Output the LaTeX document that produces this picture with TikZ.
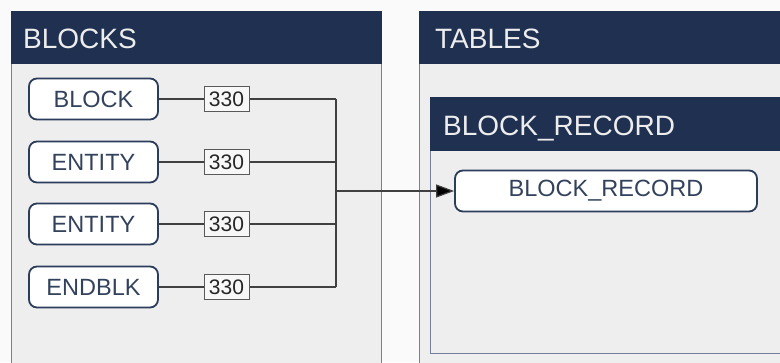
\documentclass[tikz,border=0pt]{standalone}
\usepackage{fontspec}
\setmainfont{Liberation Sans}
\usetikzlibrary{arrows.meta}
\definecolor{navy}{HTML}{203050}
\definecolor{panel}{HTML}{EEEEEE}
\definecolor{panelline}{HTML}{76809A}
\definecolor{nodeline}{HTML}{2C3D5C}
\definecolor{nodetext}{HTML}{33425C}
\tikzset{
  headfont/.style={font=\fontsize{28}{30}\selectfont},
  container/.style={fill=panel, draw=panelline, line width=1pt},
  header/.style={fill=navy, draw=navy},
  headtext/.style={headfont, text=white!93!black, anchor=base west, inner sep=0pt},
  entitybox/.style={draw=nodeline, line width=1.8pt, fill=white, rounded corners=8pt,
    font=\fontsize{23.5}{26}\selectfont, text=nodetext, minimum height=41pt,
    inner sep=0pt},
  countbox/.style={draw=black!65, line width=1pt, fill=white!97!black,
    font=\fontsize{21}{23}\selectfont, text=black!85, minimum width=45pt,
    minimum height=25pt, inner sep=0pt},
  wire/.style={draw=black!75, line width=1.2pt},
  flow/.style={wire, -{Triangle[length=18pt,width=13pt,fill=black]}}
}
\begin{document}
\begin{tikzpicture}[x=1pt,y=-1pt]
\useasboundingbox (0,0) rectangle (780,362);
\fill[white!98!black] (0,0) rectangle (780,362);
\begin{scope}
\clip (0,0) rectangle (780,362);
% BLOCKS panel
\path[container] (11,11) rectangle (381,380);
\path[header] (11,11) rectangle (381,63);
\node[headtext] (blockshead) at (23,48) {BLOCKS};
% TABLES panel
\path[container] (419,11) rectangle (800,380);
\path[header] (419,11) rectangle (800,63);
\node[headtext] (tableshead) at (435,48) {TABLES};
% BLOCK_RECORD table panel
\path[container] (430,97) rectangle (800,353);
\path[header] (430,97) rectangle (800,150);
\node[headtext] (recordhead) at (443,135) {BLOCK\_RECORD};
\end{scope}

% entity nodes
\node[entitybox, minimum width=129pt] (block)  at (93.5,99)  {BLOCK};
\node[entitybox, minimum width=129pt] (ent1)   at (93.5,162) {ENTITY};
\node[entitybox, minimum width=129pt] (ent2)   at (93.5,224) {ENTITY};
\node[entitybox, minimum width=129pt] (endblk) at (93.5,287) {ENDBLK};
\node[entitybox, minimum width=302pt] (record) at (606,191)  {BLOCK\_RECORD};

% group codes
\node[countbox] (c1) at (226.5,99)  {330};
\node[countbox] (c2) at (226.5,162) {330};
\node[countbox] (c3) at (226.5,224) {330};
\node[countbox] (c4) at (226.5,287) {330};

% bus joints
\coordinate (j1) at (336,99);
\coordinate (j2) at (336,162);
\coordinate (j3) at (336,224);
\coordinate (j4) at (336,287);

\draw[wire] (block.east)  -- (c1.west) (c1.east) -- (j1);
\draw[wire] (ent1.east)   -- (c2.west) (c2.east) -- (j2);
\draw[wire] (ent2.east)   -- (c3.west) (c3.east) -- (j3);
\draw[wire] (endblk.east) -- (c4.west) (c4.east) -- (j4);
\draw[wire] (j1) -- (j4);
\draw[flow] (j1 |- record.west) -- (record.west);
\end{tikzpicture}
\end{document}
